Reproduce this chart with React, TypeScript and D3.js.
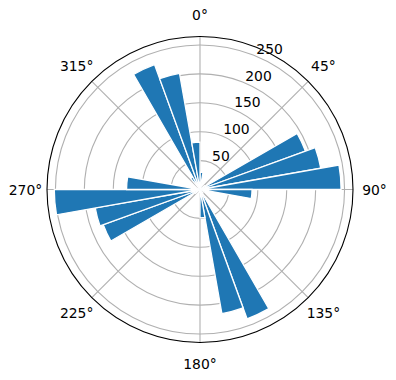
import React from "react";
import * as d3 from "d3";

// Direction bins (degrees, clockwise from North) and counts
const binCenters = [5, 15, 25, 35, 45, 55, 65, 75, 85, 95, 105, 115, 125, 135, 145, 155, 165, 175,
  185, 195, 205, 215, 225, 235, 245, 255, 265, 275, 285, 295, 305, 315, 325, 335, 345, 355];
const counts = [30, 8, 0, 0, 0, 10, 194, 212, 244, 90, 10, 0, 0, 0, 8, 238, 218, 49,
  5, 0, 0, 0, 0, 10, 178, 184, 252, 127, 5, 0, 0, 0, 25, 230, 204, 82];
const binWidthDeg = 10;
const radialTicks = [50, 100, 150, 200, 250];
const angleTicks = [0, 45, 90, 135, 180, 225, 270, 315];
const angleLabels = ["0°", "45°", "90°", "135°", "180°", "225°", "270°", "315°"];

const W = 396;
const H = 380;
const cx = 200;
const cy = 189.5;
const R = 153;

export default function App() {
  const rMax = d3.max(counts)! * 1.05;
  const r = d3.scaleLinear().domain([0, rMax]).range([0, R]);
  const toRad = (d: number) => (d * Math.PI) / 180;
  const arc = d3.arc<{ a0: number; a1: number; v: number }>()
    .innerRadius(0)
    .outerRadius((d) => r(d.v))
    .startAngle((d) => d.a0)
    .endAngle((d) => d.a1);
  const font = "'DejaVu Sans', sans-serif";
  const rLabelAngle = toRad(22.5);
  return (
    <svg width={W} height={H} style={{ position: "absolute", left: 0, top: 0 }}>
      <rect width={W} height={H} fill="#ffffff" />
      <g transform={`translate(${cx},${cy})`}>
        {radialTicks.map((t) => (
          <circle key={t} r={r(t)} fill="none" stroke="#b0b0b0" strokeWidth={1.1} />
        ))}
        {angleTicks.map((a) => (
          <line key={a} x1={0} y1={0} x2={R * Math.sin(toRad(a))} y2={-R * Math.cos(toRad(a))}
            stroke="#b0b0b0" strokeWidth={1.1} />
        ))}
        {binCenters.map((c, i) => (
          <path key={c}
            d={arc({ a0: toRad(c - binWidthDeg / 2), a1: toRad(c + binWidthDeg / 2), v: counts[i] }) || ""}
            fill="#1f77b4" stroke="#ffffff" strokeWidth={1.3} strokeLinejoin="miter" />
        ))}
        <circle r={R} fill="none" stroke="#000000" strokeWidth={1.1} />
        {angleTicks.map((a, i) => (
          <text key={a} x={174.5 * Math.sin(toRad(a))} y={-174.5 * Math.cos(toRad(a))}
            textAnchor="middle" dominantBaseline="central" fontFamily={font} fontSize={13.9} fill="#000">
            {angleLabels[i]}
          </text>
        ))}
        {radialTicks.map((t) => (
          <text key={t} x={r(t) * Math.sin(rLabelAngle) + 1} y={-r(t) * Math.cos(rLabelAngle) - 2}
            textAnchor="start" fontFamily={font} fontSize={13.9} fill="#000">
            {t}
          </text>
        ))}
      </g>
    </svg>
  );
}
